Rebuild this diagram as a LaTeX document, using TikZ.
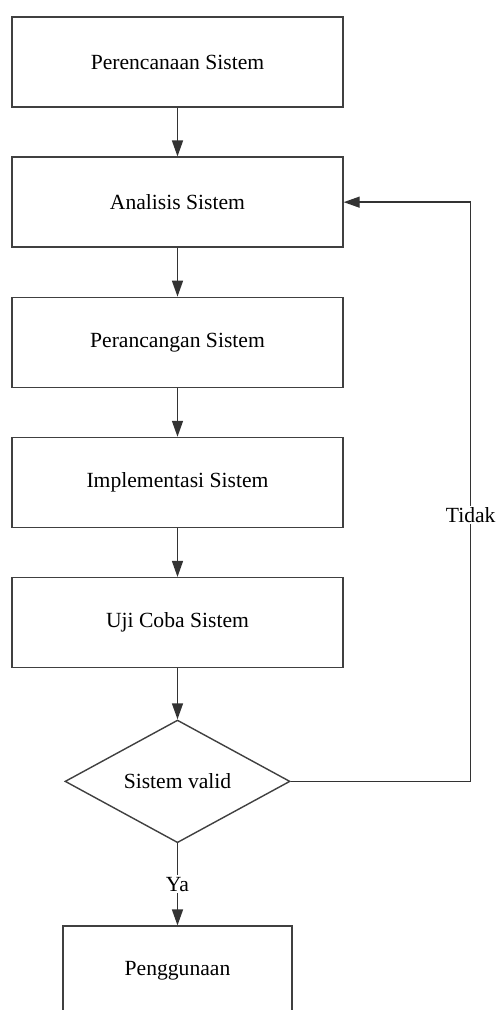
\documentclass[tikz,border=0pt]{standalone}
\usepackage{fontspec}
\setmainfont{Liberation Serif}
\usetikzlibrary{positioning,shapes.geometric,arrows.meta}

\begin{document}
\begin{tikzpicture}[every node/.style={font=\fontsize{12.3}{14}\selectfont},
    prosesbox/.style={draw=black!75, line width=0.8pt, minimum width=6.62cm, minimum height=1.8cm, inner sep=0pt},
    keputusan/.style={diamond, draw=black!75, line width=0.8pt, minimum width=4.5cm, minimum height=2.44cm, inner sep=0pt},
    panah/.style={draw=black!80, line width=0.8pt, -{Triangle[length=0.32cm, width=0.22cm]}},
    label/.style={fill=white, inner sep=1pt}]
        % Batas gambar (kotak terakhir terpotong di bawah)
        \clip (0,0) rectangle (9.94,-20.2);
        % Tahapan
        \node[prosesbox] (perencanaan) at (3.55,-1.24) {Perencanaan Sistem};
        \node[prosesbox, below=0.975cm of perencanaan] (analisis) {Analisis Sistem};
        \node[prosesbox, below=0.975cm of analisis] (perancangan) {Perancangan Sistem};
        \node[prosesbox, below=0.975cm of perancangan] (implementasi) {Implementasi Sistem};
        \node[prosesbox, below=0.975cm of implementasi] (ujicoba) {Uji Coba Sistem};
        \node[keputusan, below=1.02cm of ujicoba] (valid) {Sistem valid};
        \node[prosesbox, minimum width=4.58cm, below=1.64cm of valid] (penggunaan) {Penggunaan};
        \coordinate[right=2.54cm of analisis.east] (belok);
        % Panah alur
        \draw[panah] (perencanaan) -- (analisis);
        \draw[panah] (analisis) -- (perancangan);
        \draw[panah] (perancangan) -- (implementasi);
        \draw[panah] (implementasi) -- (ujicoba);
        \draw[panah] (ujicoba) -- (valid);
        \draw[panah] (valid) -- node[label]{Ya} (penggunaan);
        % Kembali ke analisis bila tidak valid
        \draw[panah] (valid.east) -| node[label, pos=0.73]{Tidak} (belok) -- (analisis.east);
    \end{tikzpicture}
\end{document}
